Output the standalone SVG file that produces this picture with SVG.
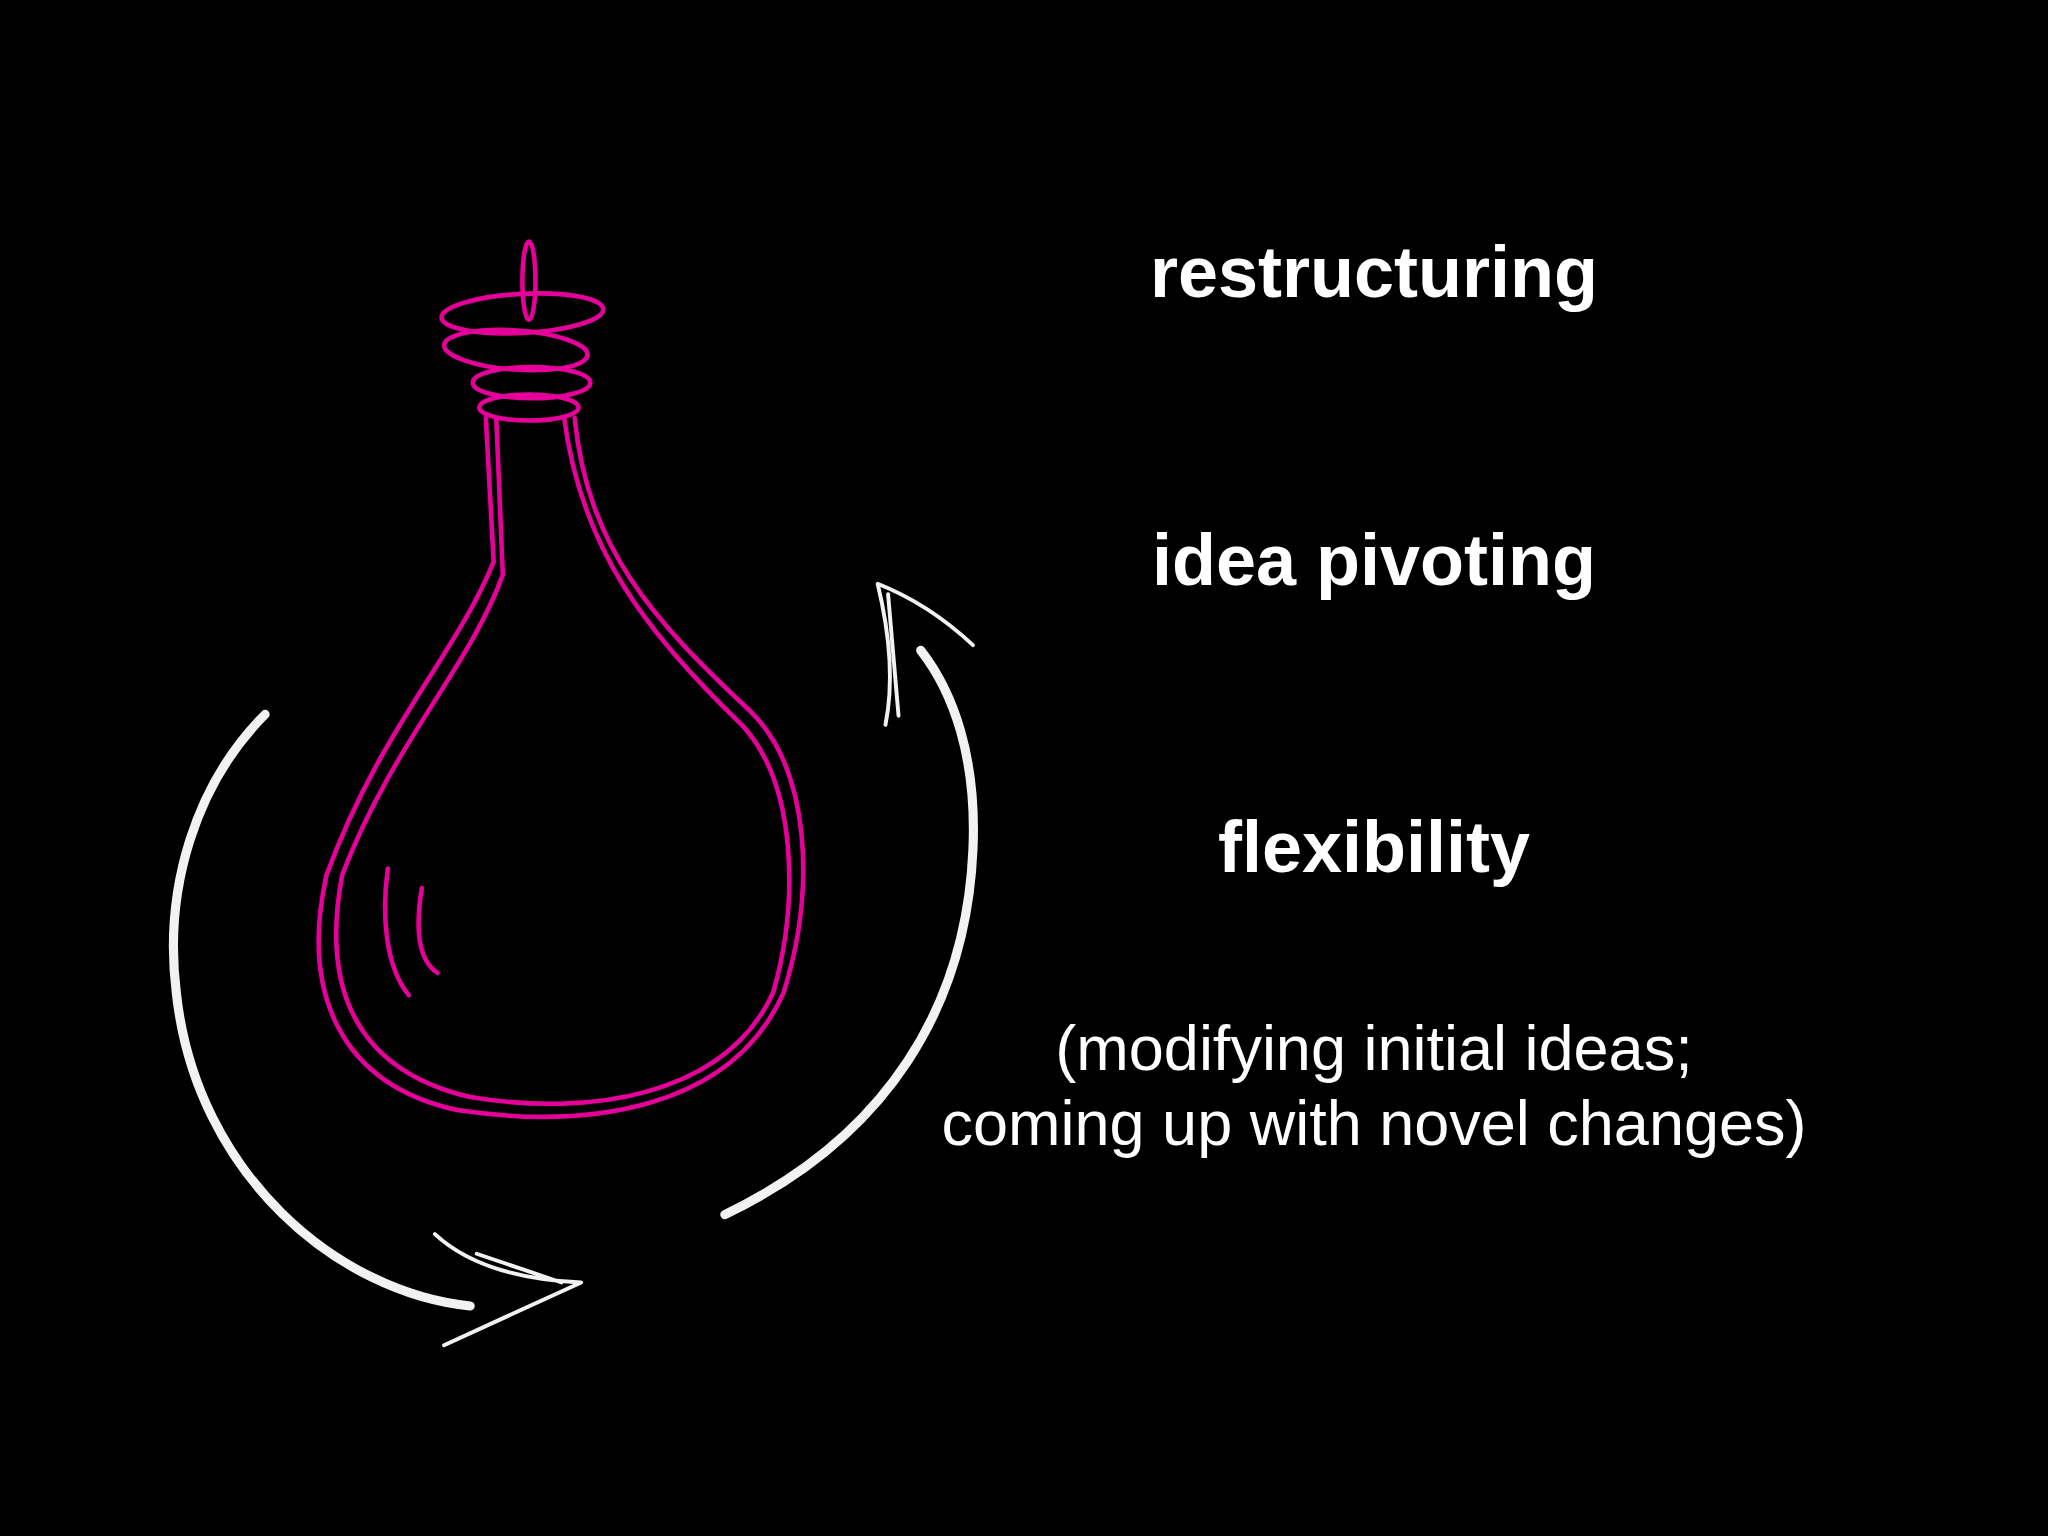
<svg xmlns="http://www.w3.org/2000/svg" width="2048" height="1536" viewBox="0 0 2048 1536">
<style>
.t{font-family:"Helvetica","Liberation Sans",Arial,sans-serif;fill:#fff;text-anchor:middle}
.b{font-weight:bold;font-size:72px}
.n{font-size:63px}
.p{fill:none;stroke:#e6009a;stroke-width:3.5;stroke-linecap:round}
.w{fill:none;stroke:#f2f2f2;stroke-linecap:round;stroke-linejoin:round}
</style>
<rect width="2048" height="1536" fill="#000"/>
<g id="bottle" transform="scale(1.306)">
<ellipse class="p" cx="405" cy="215" rx="5" ry="30"/>
<ellipse class="p" cx="400" cy="240" rx="62" ry="15" transform="rotate(-3 400 240)"/>
<ellipse class="p" cx="395" cy="268" rx="55" ry="15" transform="rotate(4 395 268)"/>
<ellipse class="p" cx="407" cy="293" rx="45" ry="12"/>
<ellipse class="p" cx="405" cy="312" rx="38" ry="10"/>
<path class="p" d="M372 320 L378 430 C350 500 290 560 250 670 C230 760 260 830 350 850 C450 865 560 850 600 760 C625 680 620 590 575 545 C500 475 450 420 440 320"/>
<path class="p" d="M380 320 L385 440 C360 510 300 570 262 670 C245 760 275 820 360 840 C450 855 555 840 592 760 C612 690 610 600 568 555 C495 485 445 420 432 320"/>
<path class="p" d="M297 665 C292 700 295 740 313 762"/>
<path class="p" d="M323 680 C318 710 320 735 335 745"/>
</g>
<g id="connectors" transform="scale(1.306)">
<path class="w" stroke-width="7" d="M203 547 C150 600 125 680 135 760 C150 900 260 990 360 1000"/>
<path class="w" stroke-width="3" d="M333 945 C360 970 400 980 445 982 L340 1030 M365 960 L430 982"/>
<path class="w" stroke-width="7" d="M555 930 C680 870 740 770 745 650 C748 580 730 530 705 498"/>
<path class="w" stroke-width="3" d="M678 555 C685 520 680 480 672 447 C705 460 730 480 745 494 M680 455 L688 548"/>
</g>
<g id="labels">
<text class="t b" x="1374" y="297">restructuring</text>
<text class="t b" x="1374" y="585">idea pivoting</text>
<text class="t b" x="1374" y="872">flexibility</text>
<text class="t n" x="1374" y="1070">(modifying initial ideas;</text>
<text class="t n" x="1374" y="1145">coming up with novel changes)</text>
</g>
</svg>
